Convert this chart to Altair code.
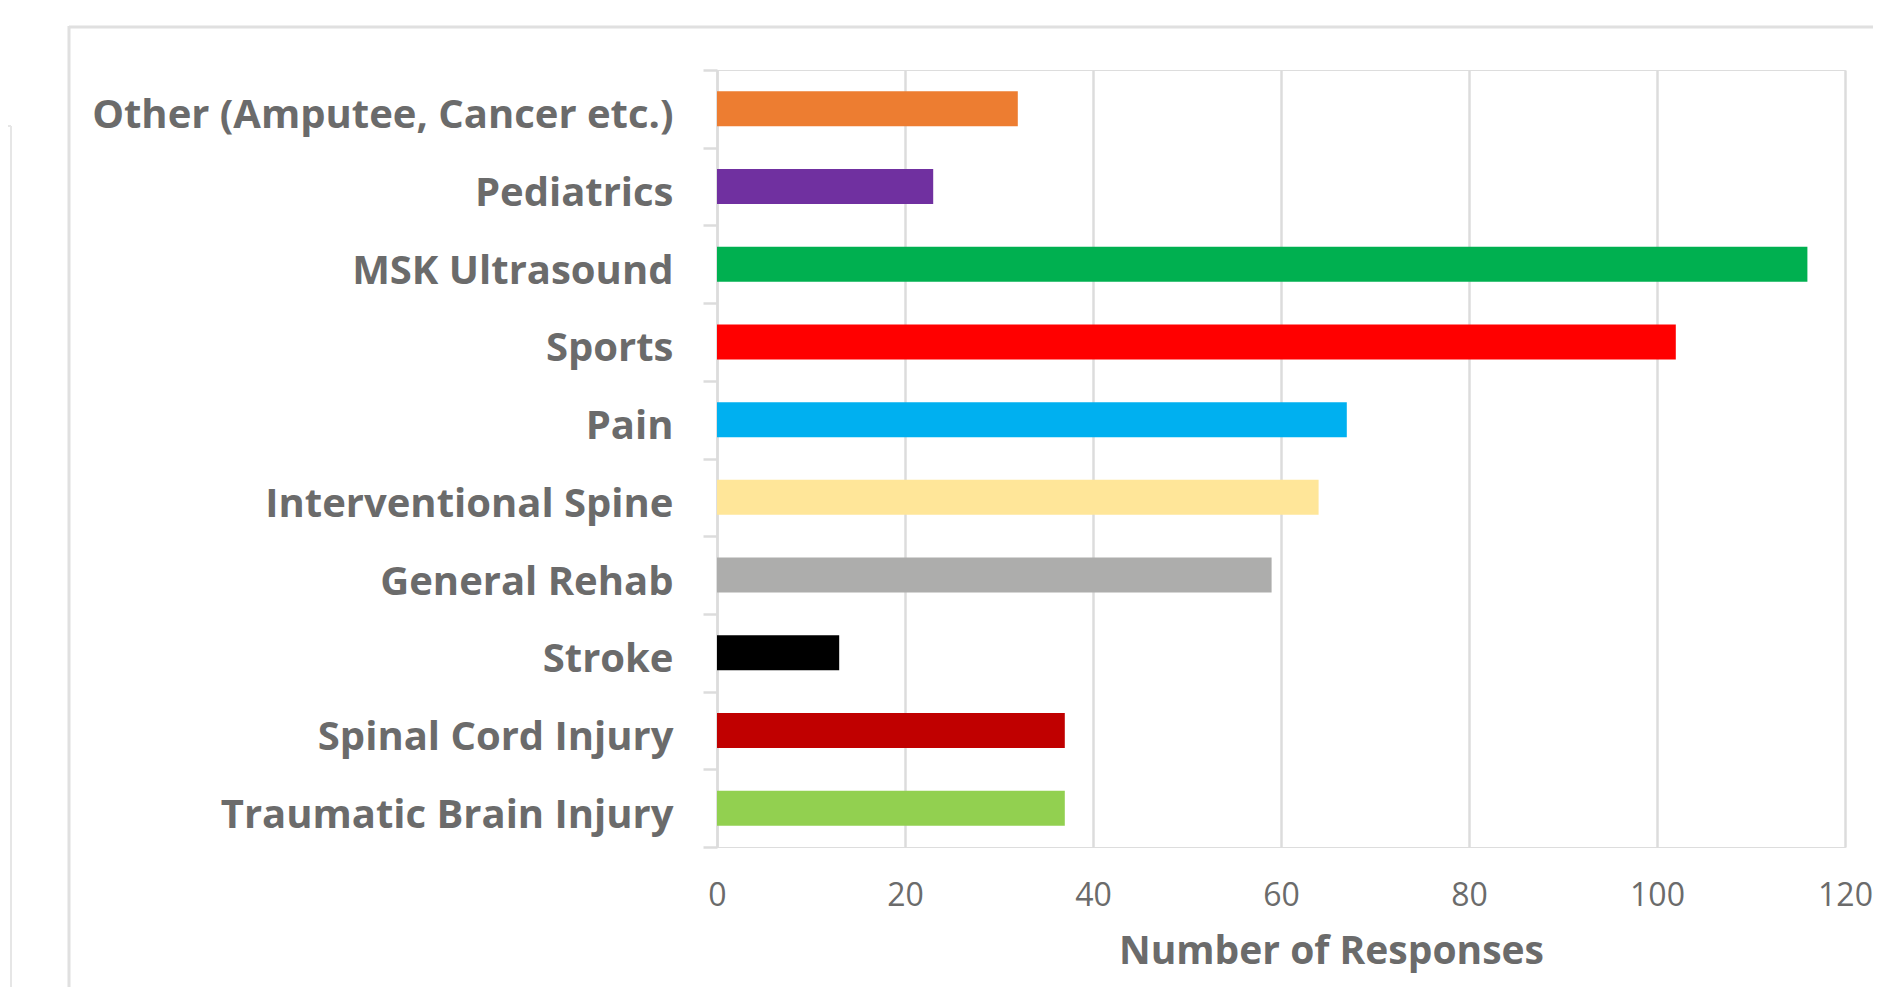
import altair as alt
import pandas as pd

categories = [
    "Other (Amputee, Cancer etc.)",
    "Pediatrics",
    "MSK Ultrasound",
    "Sports",
    "Pain",
    "Interventional Spine",
    "General Rehab",
    "Stroke",
    "Spinal Cord Injury",
    "Traumatic Brain Injury",
]
responses = [32, 23, 116, 102, 67, 64, 59, 13, 37, 37]
colors = [
    "#ED7D31", "#7030A0", "#00B050", "#FF0000", "#00B0F0",
    "#FFE699", "#ADADAC", "#000000", "#C00000", "#92D050",
]
x_ticks = [0, 20, 40, 60, 80, 100, 120]

df = pd.DataFrame({"category": categories, "responses": responses, "color": colors})
frame_df = pd.DataFrame({"k": [0]})

W, H = 1128, 777
FONT = "Open Sans"
TEXT = "#6b6b6b"
LINE = "#dcdcdc"

bars = alt.Chart(df).mark_bar(size=35).encode(
    y=alt.Y(
        "category:N",
        sort=categories,
        scale=alt.Scale(paddingInner=0, paddingOuter=0),
        axis=alt.Axis(
            title=None,
            labelFont=FONT,
            labelFontSize=40,
            labelFontWeight="bold",
            labelColor=TEXT,
            labelPadding=30,
            labelOffset=7,
            labelLimit=1000,
            tickBand="extent",
            tickSize=14,
            tickColor=LINE,
            tickWidth=2.5,
            domainColor=LINE,
            domainWidth=2.5,
            grid=False,
        ),
    ),
    x=alt.X(
        "responses:Q",
        scale=alt.Scale(domain=[0, 120], nice=False),
        axis=alt.Axis(
            title="Number of Responses",
            values=x_ticks,
            titleFont=FONT,
            titleFontSize=39,
            titleFontWeight="bold",
            titleColor=TEXT,
            titleX=614,
            titleY=116,
            titleBaseline="alphabetic",
            labelFont=FONT,
            labelFontSize=32,
            labelFontWeight="normal",
            labelColor=TEXT,
            labelBaseline="alphabetic",
            labelPadding=58,
            labelFlush=False,
            ticks=False,
            domain=False,
            grid=True,
            gridColor=LINE,
            gridWidth=2.5,
        ),
    ),
    color=alt.Color("color:N", scale=None, legend=None),
)

# decorative outer frame lines (page chrome of the original figure)
frame_top = alt.Chart(frame_df).mark_rule(color="#e0e0e0", strokeWidth=3).encode(
    x=alt.value(-648), x2=alt.value(1200), y=alt.value(-43)
)
frame_left = alt.Chart(frame_df).mark_rule(color="#e0e0e0", strokeWidth=3).encode(
    x=alt.value(-648), y=alt.value(-44), y2=alt.value(1000)
)
side_v = alt.Chart(frame_df).mark_rule(color="#e6e6e6", strokeWidth=2).encode(
    x=alt.value(-706), y=alt.value(56), y2=alt.value(1000)
)
side_h = alt.Chart(frame_df).mark_rule(color="#e6e6e6", strokeWidth=2).encode(
    x=alt.value(-720), x2=alt.value(-706), y=alt.value(56)
)

chart = alt.layer(frame_top, frame_left, side_v, side_h, bars).properties(
    width=W,
    height=H,
    autosize=alt.AutoSizeParams(type="none"),
    padding={"left": 709, "top": 62, "right": 28, "bottom": 140},
).configure_view(stroke=None).configure(background="white")

chart.save("out.html", embed_options={"renderer": "svg", "actions": False})
